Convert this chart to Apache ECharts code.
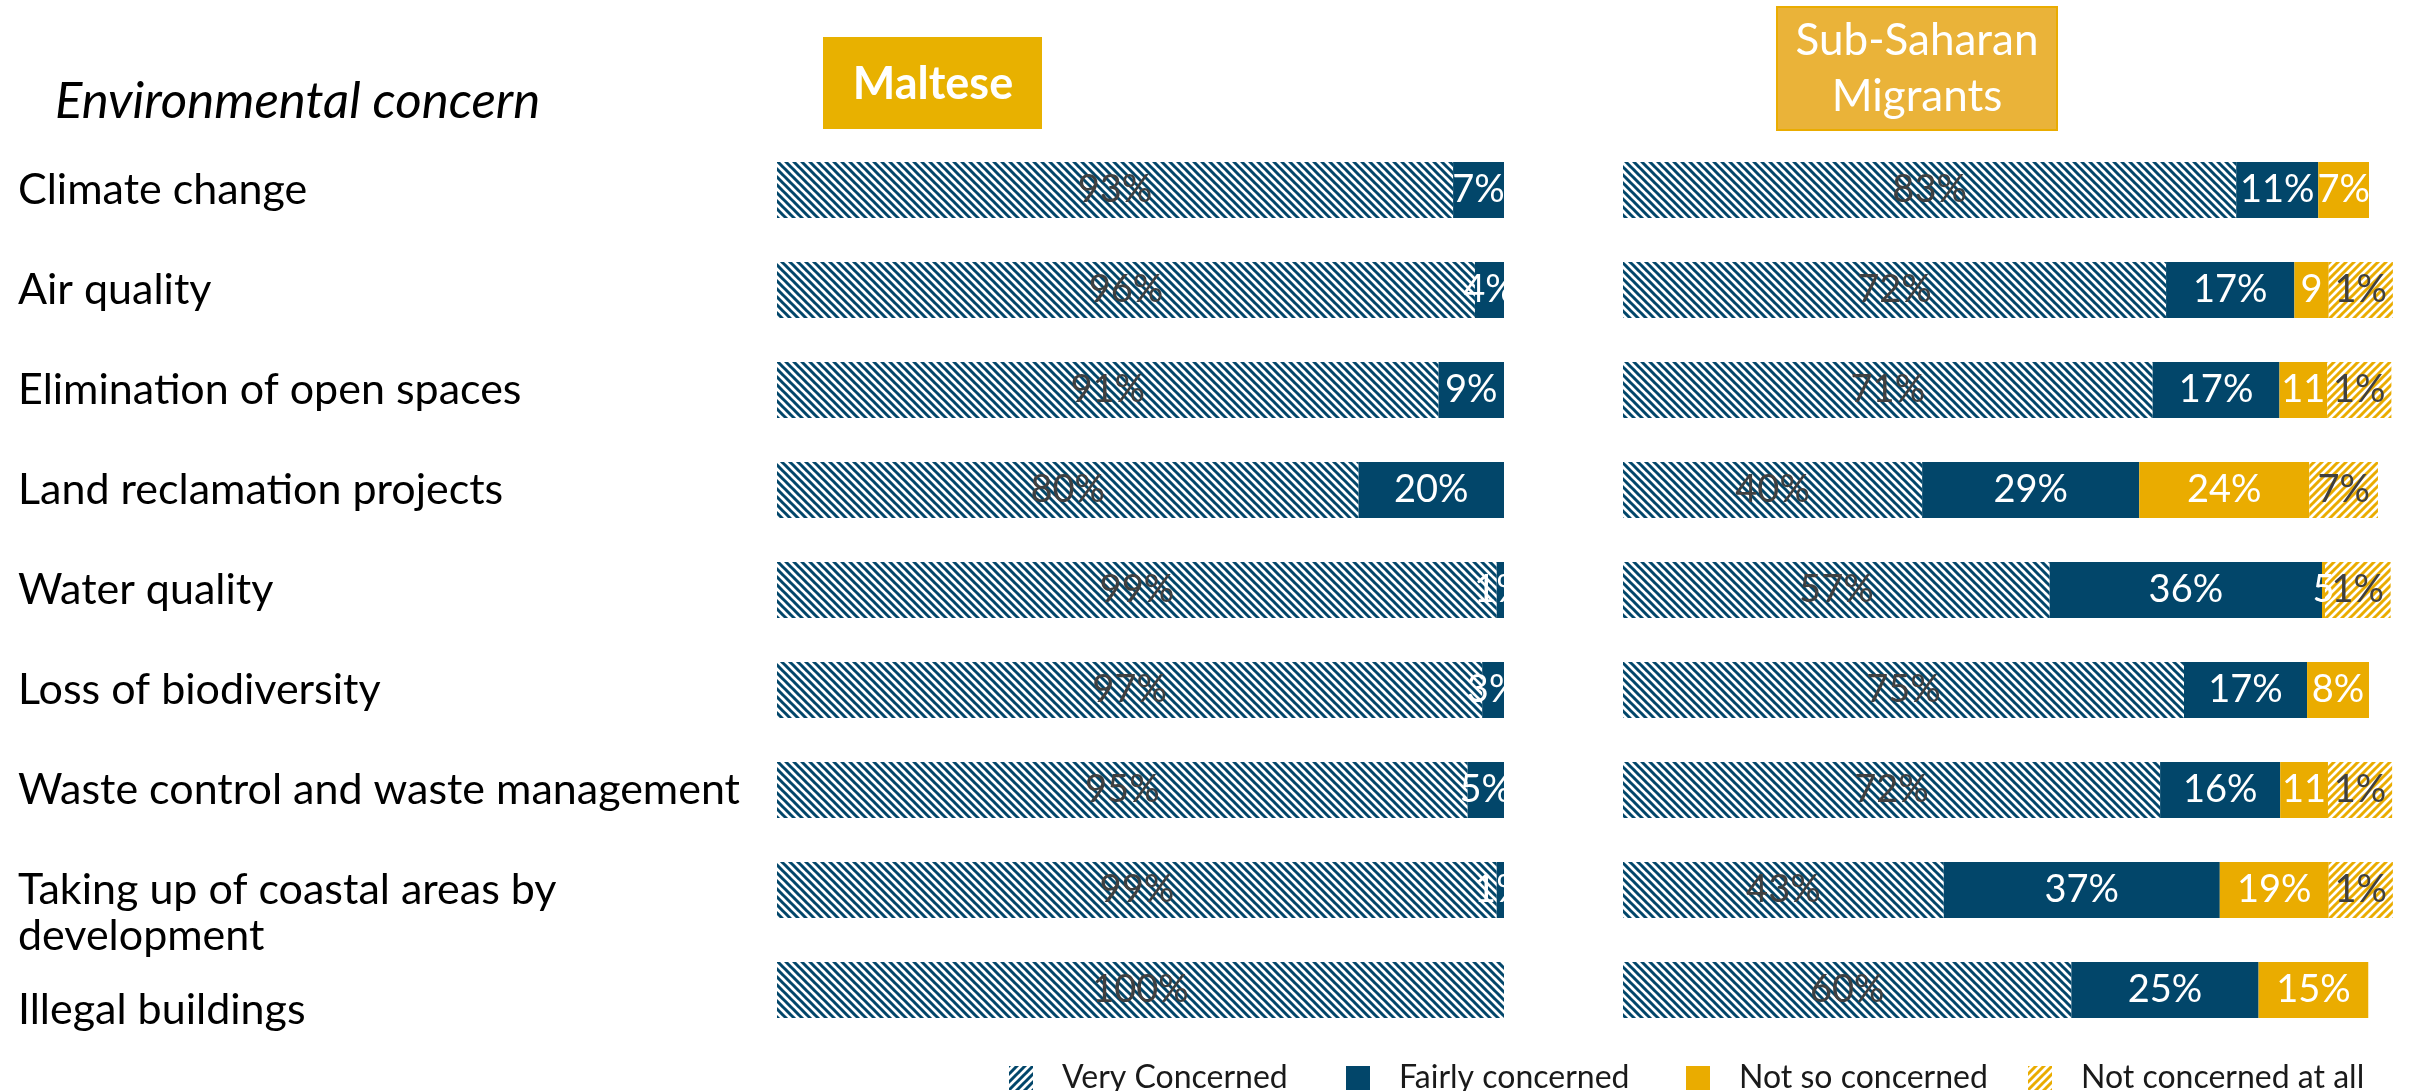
<!DOCTYPE html>
<html>
<head>
<meta charset="utf-8">
<title>Environmental concern</title>
<script src="https://cdn.jsdelivr.net/npm/echarts@6/dist/echarts.min.js"></script>
<style>
  html, body { margin: 0; padding: 0; background: #fff; }
  #chart { width: 2412px; height: 1091px; }
</style>
</head>
<body>
<div id="chart"></div>
<script>
  // categories, top to bottom
  var categories = [
    'Climate change',
    'Air quality',
    'Elimination of open spaces',
    'Land reclamation projects',
    'Water quality',
    'Loss of biodiversity',
    'Waste control and waste management',
    'Taking up of coastal areas by\ndevelopment',
    'Illegal buildings'
  ];

  // Maltese (%)
  var malteseVery   = [93, 96, 91, 80, 99, 97, 95, 99, 100];
  var malteseFairly = [7, 4, 9, 20, 1, 3, 5, 1, null];

  // Sub-Saharan migrants: segment lengths as drawn in the picture (%)
  var ssVery     = [82.2, 72.8, 71.0, 40.1, 57.2, 75.2, 72.0, 43.0, 60.1];
  var ssFairly   = [11.0, 17.2, 17.0, 29.1, 36.5, 16.5, 16.1, 37.0, 25.1];
  var ssNotSo    = [6.8, 4.6, 6.4, 22.8, 0.4, 8.3, 6.4, 14.6, 14.7];
  var ssNotAtAll = [null, 8.6, 8.6, 9.2, 8.8, null, 8.6, 8.6, null];

  // Sub-Saharan migrants: labels as printed
  var ssVeryLabels     = ['83%', '72%', '71%', '40%', '57%', '75%', '72%', '43%', '60%'];
  var ssFairlyLabels   = ['11%', '17%', '17%', '29%', '36%', '17%', '16%', '37%', '25%'];
  var ssNotSoLabels    = ['7%', '9%', '11%', '24%', '5%', '8%', '11%', '19%', '15%'];
  var ssNotAtAllLabels = ['', '1%', '1%', '7%', '1%', '', '1%', '1%', ''];

  var seriesNames = ['Very Concerned', 'Fairly concerned', 'Not so concerned', 'Not concerned at all'];

  var NAVY = '#02466A';
  var GOLD = '#EAAC00';
  var FONT = 'Lato, "Noto Sans", sans-serif';
  var SS_WIDTH = 746;

  // diagonal hatch fill, white background
  function stripes(color, dir) {
    var s = 8;
    var c = document.createElement('canvas');
    c.width = s; c.height = s;
    var ctx = c.getContext('2d');
    ctx.fillStyle = '#fff';
    ctx.fillRect(0, 0, s, s);
    ctx.strokeStyle = color;
    ctx.lineWidth = 3;
    ctx.beginPath();
    for (var k = -1; k <= 1; k++) {
      if (dir === '\\') {
        ctx.moveTo(k * s - 1, -1); ctx.lineTo(k * s + s + 1, s + 1);
      } else {
        ctx.moveTo(k * s - 1, s + 1); ctx.lineTo(k * s + s + 1, -1);
      }
    }
    ctx.stroke();
    return { image: c, repeat: 'repeat' };
  }

  var navyHatch = stripes(NAVY, '\\');
  var goldHatch = stripes(GOLD, '/');

  function bar(name, data, idx, fill, texts, labelColor) {
    return {
      name: name,
      type: 'bar',
      stack: 'total' + idx,
      xAxisIndex: idx,
      yAxisIndex: idx,
      barWidth: 56,
      clip: false,
      itemStyle: { color: fill },
      emphasis: { disabled: true },
      label: {
        show: true,
        position: 'inside',
        color: labelColor,
        fontFamily: FONT,
        fontSize: 38,
        formatter: function (p) {
          return texts ? texts[p.dataIndex] : p.value + '%';
        }
      },
      // labels in the right panel are cut where the next segment starts
      data: data.map(function (v) {
        if (v == null || !texts) return v;
        return { value: v, label: { width: Math.max(v * SS_WIDTH / 100 + 6, 30), overflow: 'truncate', ellipsis: '' } };
      })
    };
  }

  // the last two row labels sit lower than their bars (as in the original)
  var labelShift = { 7: 'g46', 8: 'g40' };

  var legendLefts = [1009, 1346, 1686, 2028];
  var legendIcons = [stripes(NAVY, '/'), NAVY, GOLD, goldHatch];

  var chart = echarts.init(document.getElementById('chart'));
  chart.setOption({
    animation: false,
    backgroundColor: '#fff',
    title: {
      text: 'Environmental concern',
      left: 55,
      top: 76,
      padding: 0,
      textStyle: {
        fontFamily: FONT, fontSize: 51, fontStyle: 'italic', fontWeight: 'normal',
        color: '#000', lineHeight: 52
      }
    },
    legend: seriesNames.map(function (n, i) {
      return {
        left: legendLefts[i],
        top: 1062,
        itemWidth: 24,
        itemHeight: 24,
        icon: 'rect',
        padding: 0,
        textStyle: {
          fontFamily: FONT, fontSize: 32, color: '#1a1a1a', padding: [0, 0, 0, 24]
        },
        data: [{ name: n, itemStyle: { color: legendIcons[i] } }]
      };
    }),
    grid: [
      { left: 777, width: 727, top: 140, height: 900, outerBoundsMode: 'none', containLabel: false },
      { left: 1623, width: SS_WIDTH, top: 140, height: 900, outerBoundsMode: 'none', containLabel: false }
    ],
    xAxis: [
      { type: 'value', gridIndex: 0, min: 0, max: 100, show: false },
      { type: 'value', gridIndex: 1, min: 0, max: 100, show: false }
    ],
    yAxis: [
      {
        type: 'category', gridIndex: 0, inverse: true, data: categories,
        axisLine: { show: false }, axisTick: { show: false },
        axisLabel: {
          interval: 0, align: 'left', margin: 759, fontFamily: FONT, fontSize: 43,
          color: '#000', lineHeight: 46,
          formatter: function (value, index) {
            var g = labelShift[index];
            return g ? '{' + g + '| }\n' + value : value;
          },
          rich: {
            g46: { lineHeight: 46, fontSize: 10 },
            g40: { lineHeight: 40, fontSize: 10 }
          }
        }
      },
      {
        type: 'category', gridIndex: 1, inverse: true, data: categories,
        axisLine: { show: false }, axisTick: { show: false }, axisLabel: { show: false }
      }
    ],
    graphic: [
      // header boxes
      {
        type: 'group', left: 823, top: 37,
        children: [
          { type: 'rect', shape: { x: 0, y: 0, width: 219, height: 92 }, style: { fill: '#E8B100' } },
          { type: 'text', x: 110, y: 47, style: {
              text: 'Maltese', fill: '#fff', font: 'bold 45px ' + FONT,
              align: 'center', verticalAlign: 'middle' } }
        ]
      },
      {
        type: 'group', left: 1776, top: 6,
        children: [
          { type: 'rect', shape: { x: 0, y: 0, width: 280, height: 123 },
            style: { fill: '#EAB339', stroke: '#EAAC00', lineWidth: 2 } },
          { type: 'text', x: 140, y: 62, style: {
              text: 'Sub-Saharan\nMigrants', fill: '#fff', font: '44px ' + FONT,
              lineHeight: 56, align: 'center', verticalAlign: 'middle' } }
        ]
      },
      // labels of the Maltese panel are cut at its right edge
      {
        type: 'rect', z: 100,
        shape: { x: 1505, y: 140, width: 110, height: 900 },
        style: { fill: '#fff' }
      }
    ],
    series: [
      bar(seriesNames[0], malteseVery, 0, navyHatch, null, '#404040'),
      bar(seriesNames[1], malteseFairly, 0, NAVY, null, '#fff'),
      bar(seriesNames[0], ssVery, 1, navyHatch, ssVeryLabels, '#404040'),
      bar(seriesNames[1], ssFairly, 1, NAVY, ssFairlyLabels, '#fff'),
      bar(seriesNames[2], ssNotSo, 1, GOLD, ssNotSoLabels, '#fff'),
      bar(seriesNames[3], ssNotAtAll, 1, goldHatch, ssNotAtAllLabels, '#404040')
    ]
  });
</script>
</body>
</html>
